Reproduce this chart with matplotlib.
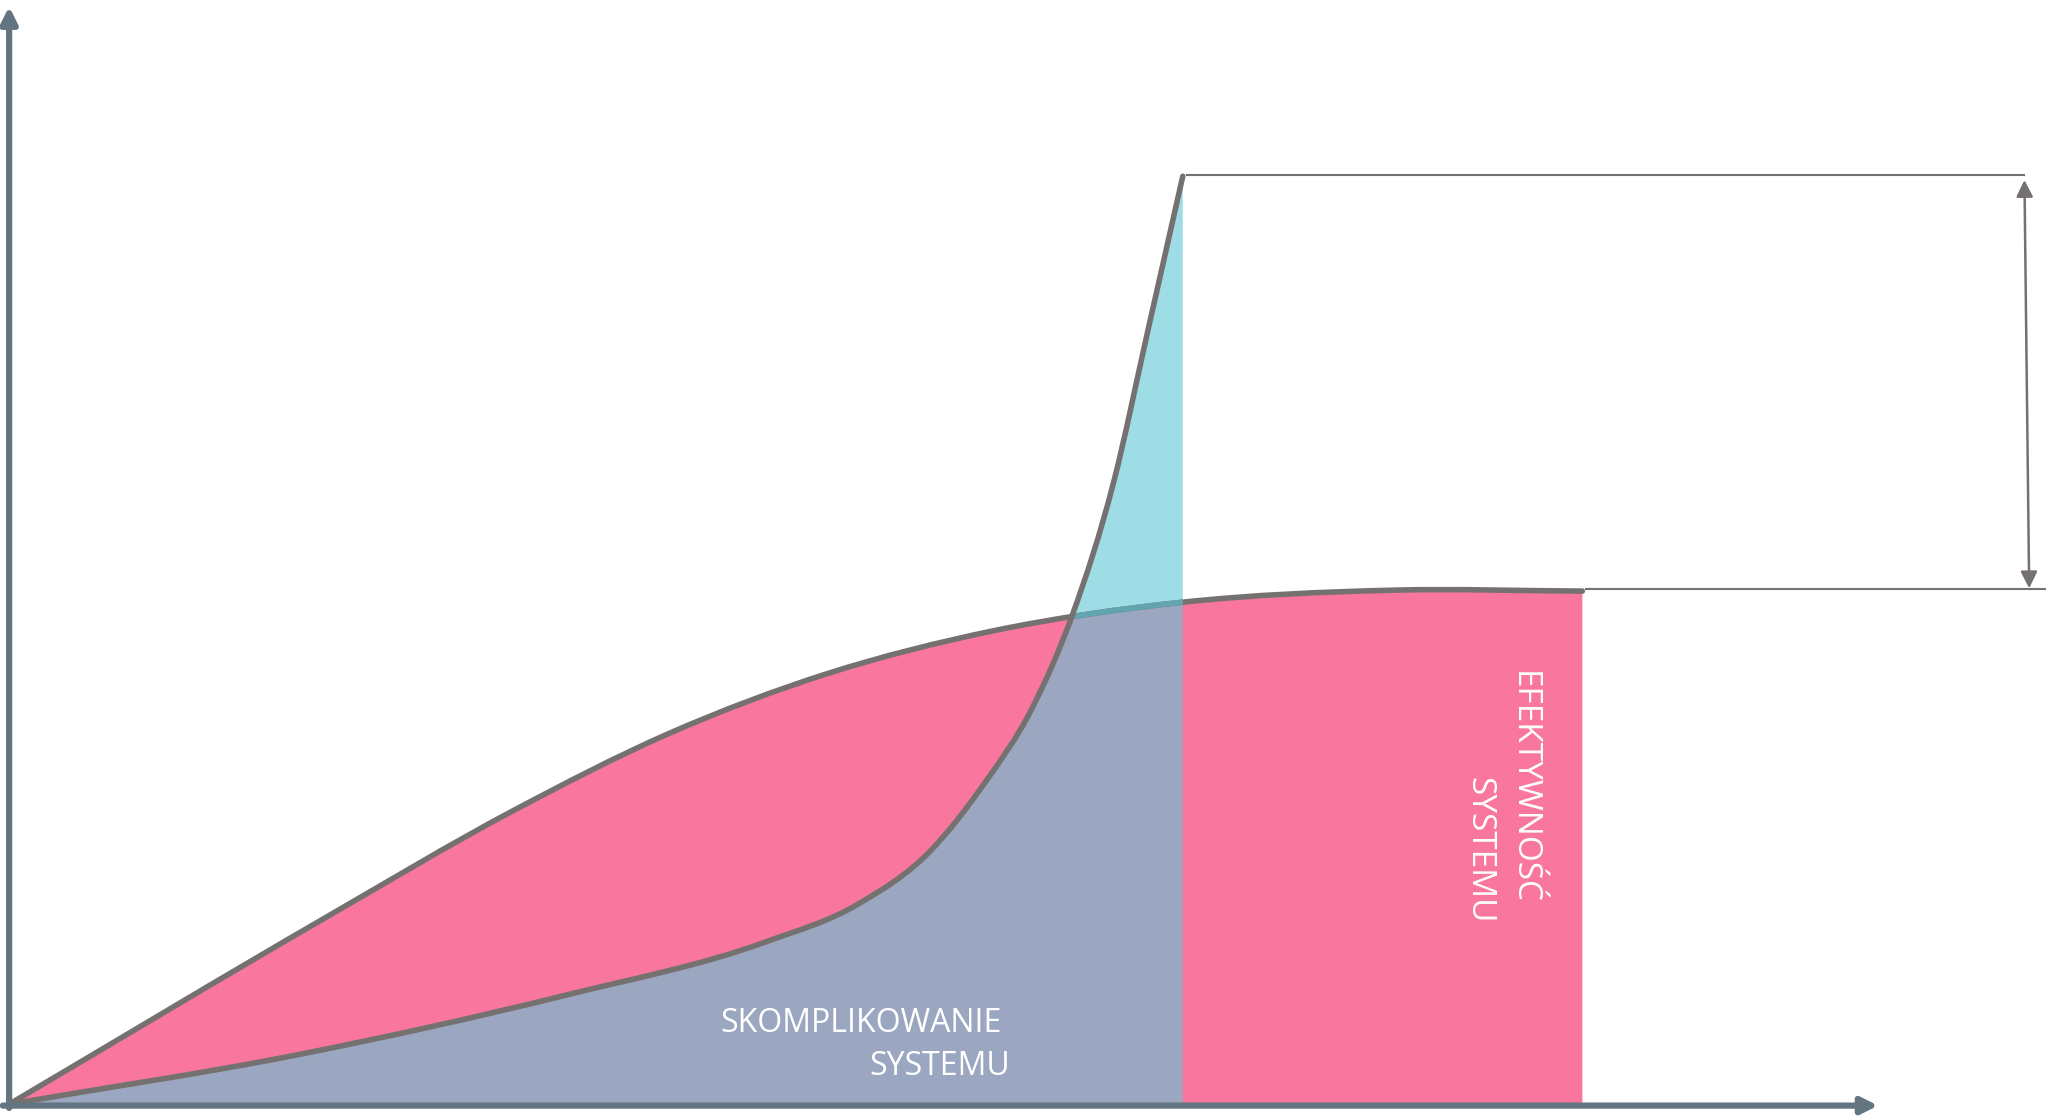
import numpy as np
import matplotlib.pyplot as plt
from matplotlib.path import Path
from matplotlib.patches import PathPatch

# efektywnosc systemu (upper curve) - x / y in chart units
x_eff = [0, 20, 32, 42, 52, 62.5, 74.6, 88.0, 100]
y_eff = [0, 20, 31.6, 40.0, 46.4, 51.0, 54.1, 55.4, 55.3]

# skomplikowanie systemu (steep curve)
x_cpx = [0, 18.4, 35.5, 48.1, 54.0, 58.5, 62.0, 65.0, 67.6, 70.2, 72.4, 74.6]
y_cpx = [0, 5.35, 11.8, 17.5, 21.6, 27.2, 34.6, 42.6, 52.8, 67.0, 83.5, 100]

label_cpx = ['SKOMPLIKOWANIE', 'SYSTEMU']
label_eff = ['EFEKTYWNOŚĆ', 'SYSTEMU']

pink = '#F9779F'
bluegray = '#9BA7C0'
cyan = '#9EDCE6'
teal = '#62A5AF'
line_c = '#767171'
axis_c = '#627581'


def smooth_path(xs, ys, to_axis=False):
    # smooth curve through the read points: bessel tangents drawn as bezier segments
    x = np.asarray(xs, float)
    y = np.asarray(ys, float)
    h = np.diff(x)
    d = np.diff(y) / h
    m = np.zeros_like(y)
    m[0], m[-1] = d[0], d[-1]
    for k in range(1, len(x) - 1):
        m[k] = (h[k] * d[k - 1] + h[k - 1] * d[k]) / (h[k - 1] + h[k])
    verts = [(x[0], y[0])]
    codes = [Path.MOVETO]
    for k in range(len(x) - 1):
        s = h[k] / 3
        verts += [(x[k] + s, y[k] + m[k] * s), (x[k + 1] - s, y[k + 1] - m[k + 1] * s),
                  (x[k + 1], y[k + 1])]
        codes += [Path.CURVE4] * 3
    if to_axis:
        verts += [(x[-1], 0), (x[0], 0), (x[0], 0)]
        codes += [Path.LINETO, Path.LINETO, Path.CLOSEPOLY]
    return Path(verts, codes)


fig = plt.figure(figsize=(20.49, 11.16), dpi=100)
ax = fig.add_axes([0, 0, 1, 1])
ax.set_xlim(-0.58, 129.66)
ax.set_ylim(-1.27, 119.0)
ax.axis('off')

eff_area = smooth_path(x_eff, y_eff, True)
cpx_area = smooth_path(x_cpx, y_cpx, True)

# fills: cyan under complexity, pink under efficiency, blue-gray where both
ax.add_patch(PathPatch(cpx_area, fc=cyan, lw=0, zorder=1))
ax.add_patch(PathPatch(eff_area, fc=pink, lw=0, zorder=2))
both = PathPatch(cpx_area, fc=bluegray, lw=0, zorder=3)
ax.add_patch(both)
both.set_clip_path(eff_area, ax.transData)

# efficiency line, teal where it runs under the complexity area
ax.add_patch(PathPatch(smooth_path(x_eff, y_eff), fill=False, ec=line_c, lw=4,
                       capstyle='round', zorder=4))
teal_line = PathPatch(smooth_path(x_eff, y_eff), fill=False, ec=teal, lw=4, zorder=5)
ax.add_patch(teal_line)
teal_line.set_clip_path(cpx_area, ax.transData)

ax.add_patch(PathPatch(smooth_path(x_cpx, y_cpx), fill=False, ec=line_c, lw=4,
                       capstyle='round', zorder=6))

# axes with arrows
arr = dict(arrowstyle='-|>,head_length=0.4,head_width=0.2', lw=4.5, color=axis_c,
           mutation_scale=24, shrinkA=0, shrinkB=0)
ax.annotate('', xy=(0, 118.3), xytext=(0, -0.4), arrowprops=arr, zorder=7)
ax.annotate('', xy=(118.8, -0.15), xytext=(-0.4, -0.15), arrowprops=arr, zorder=7)

# difference marker on the right
top = y_cpx[-1]
bottom = y_eff[-1]
ax.plot([x_cpx[-1] + 0.3, 128.1], [top + 0.1, top + 0.1], color=line_c, lw=1.5)
ax.plot([x_eff[-1] + 0.2, 129.4], [bottom + 0.2, bottom + 0.2], color=line_c, lw=1.5)
ax.annotate('', xy=(128.1, top - 0.4), xytext=(128.4, bottom + 0.3),
            arrowprops=dict(arrowstyle='<|-|>,head_length=0.4,head_width=0.2', lw=1.8,
                            color=line_c, mutation_scale=25, shrinkA=0, shrinkB=0))

# labels
font = dict(family=['Open Sans', 'DejaVu Sans'], color='white', zorder=8,
            rotation_mode='anchor')
ax.text(63.1, 7.8, label_cpx[0], ha='right', va='baseline', fontsize=23, **font)
ax.text(63.6, 3.2, label_cpx[1], ha='right', va='baseline', fontsize=23, **font)
ax.text(95.7, 46.7, label_eff[0], ha='left', va='baseline', rotation=-90,
        fontsize=24, **font)
ax.text(92.85, 35.3, label_eff[1], ha='left', va='baseline', rotation=-90,
        fontsize=24, **font)

plt.savefig('out.png', dpi=100)
